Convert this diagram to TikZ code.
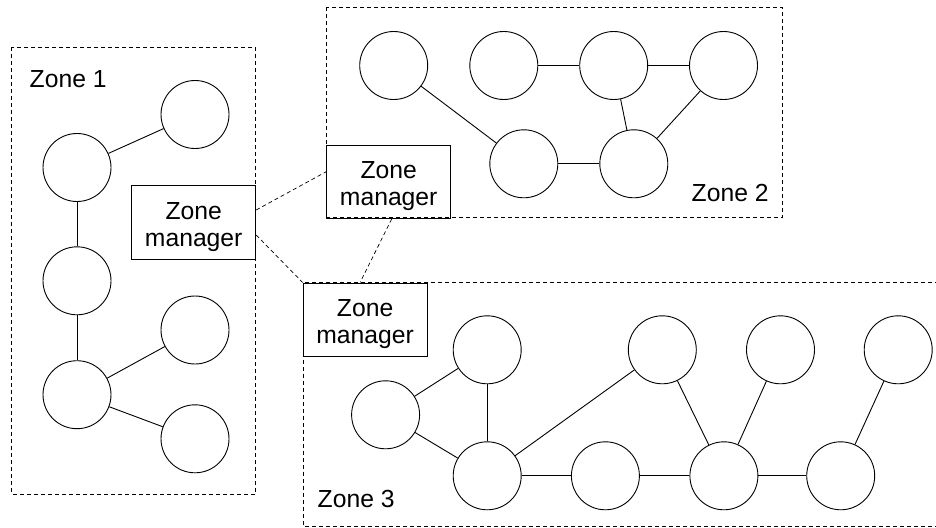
\documentclass[tikz,border=0pt]{standalone}
\usepackage{fontspec}
\setmainfont{Liberation Sans}
\begin{document}
\begin{tikzpicture}[x=1pt,y=-1pt,
  every node/.style={font=\fontsize{24.7}{27.3}\selectfont},
  host/.style={circle,draw,line width=0.9pt,minimum size=68pt,inner sep=0pt},
  zonebox/.style={draw,line width=0.8pt,dash pattern=on 4pt off 3pt},
  manager/.style={draw,line width=0.9pt,minimum width=124pt,minimum height=73.5pt,inner sep=0pt},
  mgrtext/.style={align=center,inner sep=0pt},
  zonelabel/.style={anchor=base west,inner sep=0pt},
  link/.style={line width=0.9pt},
  mgrlink/.style={line width=0.7pt,dash pattern=on 4pt off 3pt}]

\useasboundingbox (0,0) rectangle (936,527);

% zone outlines
\draw[zonebox] (11.7,47.3) rectangle (255.7,494);
\draw[zonebox] (326.7,7.3) rectangle (782.3,217.7);
\draw[zonebox] (303.6,282.7) rectangle (945,526);

% zone labels
\node[zonelabel] (lz1) at (29.5,87.3) {Zone 1};
\node[zonelabel] (lz2) at (691.5,201.7) {Zone 2};
\node[zonelabel] (lz3) at (317.5,507.5) {Zone 3};

% zone 1 hosts
\node[host] (a1) at (195,114.5) {};
\node[host] (a2) at (77,167.5) {};
\node[host] (a3) at (77,280.8) {};
\node[host] (a4) at (77,394.7) {};
\node[host] (a5) at (195,330) {};
\node[host] (a6) at (195,438.8) {};
\draw[link] (a2) -- (a1);
\draw[link] (a2) -- (a3);
\draw[link] (a3) -- (a4);
\draw[link] (a4) -- (a5);
\draw[link] (a4) -- (a6);

% zone 2 hosts
\node[host] (b1) at (393.7,65.5) {};
\node[host] (b2) at (503.8,65.5) {};
\node[host] (b3) at (613.7,65.5) {};
\node[host] (b4) at (723.5,65.5) {};
\node[host] (b5) at (523.8,163.8) {};
\node[host] (b6) at (633.8,163.8) {};
\draw[link] (b1) -- (b5);
\draw[link] (b2) -- (b3);
\draw[link] (b3) -- (b4);
\draw[link] (b3) -- (b6);
\draw[link] (b4) -- (b6);
\draw[link] (b5) -- (b6);

% zone 3 hosts
\node[host] (c1) at (385.6,414.8) {};
\node[host] (c2) at (487.2,349.8) {};
\node[host] (c3) at (487.2,475.8) {};
\node[host] (c4) at (605.4,475.8) {};
\node[host] (c5) at (662.3,349.8) {};
\node[host] (c6) at (723.9,475.8) {};
\node[host] (c7) at (780.5,349.8) {};
\node[host] (c8) at (840.7,475.8) {};
\node[host] (c9) at (898.2,349.8) {};
\draw[link] (c1) -- (c2);
\draw[link] (c1) -- (c3);
\draw[link] (c2) -- (c3);
\draw[link] (c3) -- (c5);
\draw[link] (c3) -- (c4);
\draw[link] (c4) -- (c6);
\draw[link] (c5) -- (c6);
\draw[link] (c7) -- (c6);
\draw[link] (c6) -- (c8);
\draw[link] (c9) -- (c8);

% zone managers
\node[manager] (m1) at (193.7,222.5) {};
\node[manager] (m2) at (388.7,181.7) {};
\node[manager] (m3) at (365.1,319.7) {};
\node[mgrtext] (t1) at ([yshift=-4.5pt]m1.center) {Zone\\manager};
\node[mgrtext] (t2) at ([yshift=-4.5pt]m2.center) {Zone\\manager};
\node[mgrtext] (t3) at ([yshift=-4.5pt]m3.center) {Zone\\manager};

% manager links
\draw[mgrlink] ([yshift=12.5pt]m1.east) -- ([yshift=10pt]m2.west);
\draw[mgrlink] ([yshift=-12.5pt]m1.east) -- (m3.north west);
\draw[mgrlink] ([xshift=3pt]m2.south) -- ([xshift=-5pt]m3.north);

\end{tikzpicture}
\end{document}
